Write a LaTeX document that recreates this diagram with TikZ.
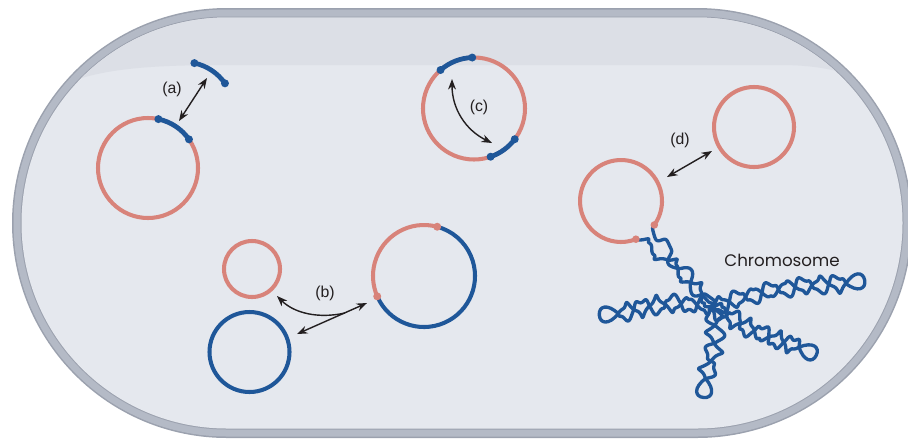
\documentclass[tikz,border=0pt]{standalone}
\usepackage{fontspec}
\setmainfont{Liberation Sans}
\newfontfamily\chromofont{Poppins}
\usetikzlibrary{arrows.meta,calc}

\definecolor{rimdark}{HTML}{9BA1AE}
\definecolor{rim}{HTML}{B4BAC6}
\definecolor{cytosol}{HTML}{E5E8EE}
\definecolor{band}{HTML}{DCDFE6}
\definecolor{pinkdna}{HTML}{D8837A}
\definecolor{bluedna}{HTML}{1F5799}
\definecolor{labelgray}{HTML}{231F20}

% one twisted chromosome loop: direction, length, half twists, wobble, bend
\newcommand{\chromoloop}[5]{%
  \begin{scope}[shift={(chr)}, rotate=#1]
    \pgfmathsetmacro{\twist}{180*#3/#2}
    \pgfmathsetmacro{\arch}{180/#2}
    \draw[chromo] plot[domain=0:#2, samples=2*#2, smooth, variable=\s]
      ({\s+1.3*sin(2*\twist*\s)},
       {sin(\twist*\s)*(7.5+2.5*sin(#4*\s))+#5*sin(\arch*\s)});
    \draw[chromo] plot[domain=0:#2, samples=2*#2, smooth, variable=\s]
      ({\s-1.3*sin(2*\twist*\s)},
       {-sin(\twist*\s)*(7.5+2.5*cos(1.4*#4*\s))+#5*sin(\arch*\s)});
    \draw[chromo] (#2,0) .. controls +(10,11) and +(0,9) .. (#2+19,0)
      .. controls +(0,-9) and +(10,-11) .. (#2,0);
  \end{scope}}

\begin{document}
\begin{tikzpicture}[x=0.02cm, y=0.02cm,
    capsule/.style={insert path={(227,{-8-#1}) -- (697,{-8-#1})
        arc[start angle=90, end angle=-90, radius={215-#1}]
        -- (227,{-438+#1})
        arc[start angle=270, end angle=90, radius={215-#1}] -- cycle}},
    ring/.style={line width=2.3pt},
    pinkring/.style={ring, draw=pinkdna},
    bluering/.style={ring, draw=bluedna},
    segment/.style={line width=2.7pt, draw=bluedna},
    bluedot/.style={fill=bluedna},
    pinkdot/.style={fill=pinkdna},
    chromo/.style={draw=bluedna, line width=1.9pt, line cap=round, line join=round},
    exchange/.style={draw=labelgray, line width=0.8pt,
        {Stealth[length=6pt,width=4.5pt]}-{Stealth[length=6pt,width=4.5pt]}},
    oneway/.style={draw=labelgray, line width=0.8pt, -{Stealth[length=6pt,width=4.5pt]}},
    lbl/.style={font=\fontsize{9}{10}\selectfont, text=labelgray, inner sep=1pt}]

\clip (0,0) rectangle (908,-444);

% cell envelope
\fill[rimdark, capsule=0];
\fill[rim, capsule=1.5];
\fill[rimdark, capsule=8.5];
\fill[cytosol, capsule=9.5];
\begin{scope}
  \clip[capsule=9.5];
  \fill[band] (0,-125) .. controls (60,-72) and (110,-65) .. (230,-65) -- (780,-65)
    .. controls (840,-65) and (880,-80) .. (908,-120) -- (908,0) -- (0,0) -- cycle;
\end{scope}

% (a) insertion of a fragment
\coordinate (pa) at (148,-168);
\coordinate (fa) at (184,-112);
\draw[pinkring] (pa) circle[radius=50];
\foreach \c in {pa,fa}{
  \draw[segment] ([shift={(78:50)}]\c) arc[start angle=78, end angle=35, radius=50];
  \fill[bluedot] ([shift={(78:50)}]\c) circle[radius=4] ([shift={(35:50)}]\c) circle[radius=4];
}
\coordinate (a1) at (179,-121);
\coordinate (a2) at (207,-78);
\draw[exchange] (a1) -- (a2);
\node[lbl] (la) at (172,-89) {(a)};

% (c) inversion
\coordinate (pc) at (474,-108.5);
\draw[pinkring] (pc) circle[radius=51];
\draw[segment] ([shift={(131:51)}]pc) arc[start angle=131, end angle=92, radius=51];
\draw[segment] ([shift={(-37:51)}]pc) arc[start angle=-37, end angle=-71, radius=51];
\foreach \a in {131,92,-37,-71}
  \fill[bluedot] ([shift={(\a:51)}]pc) circle[radius=4];
\coordinate (c1) at (452,-79);
\coordinate (c2) at (492,-143);
\draw[exchange] (c1) to[bend right=32] (c2);
\node[lbl] (lc) at (479,-107) {(c)};

% (b) fusion
\coordinate (pb) at (252,-269);
\coordinate (qb) at (249.5,-352);
\coordinate (rb) at (424,-276);
\draw[pinkring] (pb) circle[radius=28];
\draw[bluering] (qb) circle[radius=40];
\draw[bluering] ([shift={(203.5:51)}]rb) arc[start angle=203.5, end angle=435, radius=51];
\draw[pinkring] ([shift={(75:51)}]rb) arc[start angle=75, end angle=203.5, radius=51];
\fill[pinkdot] ([shift={(75:51)}]rb) circle[radius=4] ([shift={(203.5:51)}]rb) circle[radius=4];
\coordinate (b1) at (297,-334);
\coordinate (b2) at (367,-303);
\coordinate (b3) at (277,-296);
\coordinate (bj) at (345,-313);
\draw[exchange] (b1) -- (b2);
\draw[oneway] (bj) .. controls (318,-319) and (294,-313) .. (b3);
\node[lbl] (lb) at (325,-293) {(b)};

% (d) integration into the chromosome
\coordinate (pd) at (754,-127);
\coordinate (qd) at (621,-201);
\coordinate (chr) at (713,-307);
\draw[pinkring] (pd) circle[radius=40];
\draw[pinkring] ([shift={(-35.7:41)}]qd) arc[start angle=-35.7, end angle=291.3, radius=41];
\coordinate (d1) at (667,-177);
\coordinate (d2) at (712,-151);
\draw[exchange] (d1) -- (d2);
\node[lbl] (ld) at (680,-140) {(d)};

% chromosome
\begin{scope}[shift={(chr)}, rotate=132]
  \pgfmathsetmacro{\twist}{180*6/101}
  \draw[chromo] plot[domain=0:101, samples=202, smooth, variable=\s]
    ({\s+1.3*sin(2*\twist*\s)}, {sin(\twist*\s)*(6+2*sin(31*\s))+11.5*(\s/101)^3});
  \draw[chromo] plot[domain=0:101, samples=202, smooth, variable=\s]
    ({\s-1.3*sin(2*\twist*\s)}, {-sin(\twist*\s)*(6+2*cos(17*\s))-11.5*(\s/101)^3});
\end{scope}
\chromoloop{10}{135}{8}{23}{6}
\chromoloop{-25}{95}{6}{31}{-4}
\chromoloop{-96}{72}{4}{19}{5}
\chromoloop{184}{95}{6}{27}{-6}
\fill[pinkdot] ([shift={(-35.7:41)}]qd) circle[radius=3.8] ([shift={(-68.7:41)}]qd) circle[radius=3.8];
\node[font=\chromofont\fontsize{9.5}{11}\selectfont, text=labelgray] (chrlabel) at (782,-260) {Chromosome};

\end{tikzpicture}
\end{document}
